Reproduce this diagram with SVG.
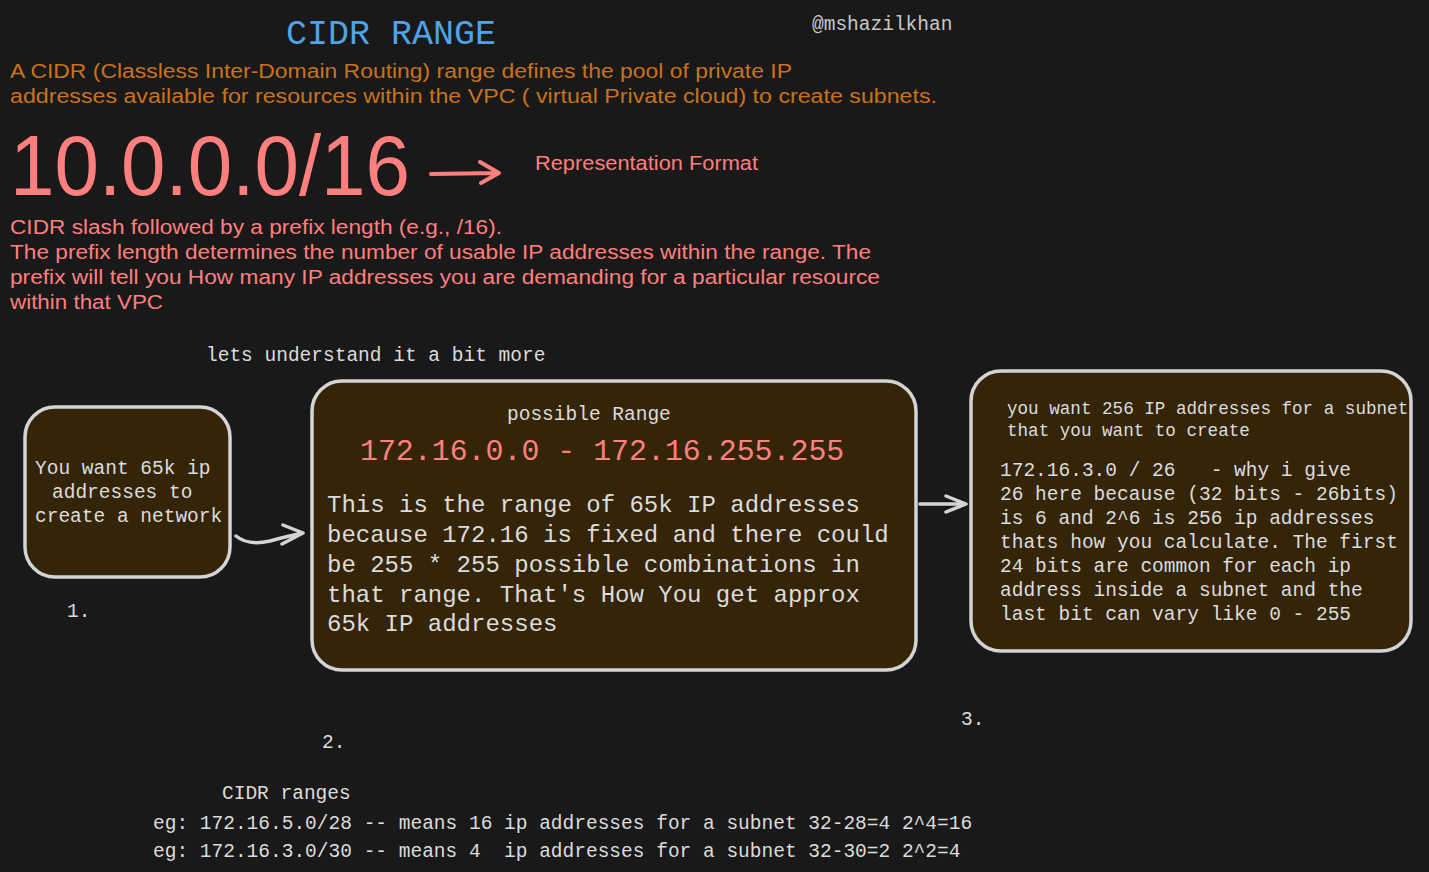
<svg xmlns="http://www.w3.org/2000/svg" width="1429" height="872" viewBox="0 0 1429 872">
<style>
.mono{font-family:"Liberation Mono","DejaVu Sans Mono",monospace;fill:#dcdcdc}
.hand{font-family:"Liberation Sans","Noto Sans",sans-serif}
.org{fill:#c8731c}
.pink{fill:#ff7f7f}
.box{fill:#352508;stroke:#d4d4d4;stroke-width:3.5}
.conn{fill:none;stroke:#d4d4d4;stroke-width:3.5;stroke-linecap:round;stroke-linejoin:round}
</style>
<rect width="1429" height="872" fill="#191919"/>
<g id="header">
<text class="mono" x="286" y="44" font-size="35" style="fill:#4fa3e8">CIDR RANGE</text>
<text class="mono" x="812" y="30" font-size="19.5" style="fill:#c8c8c8">@mshazilkhan</text>
<text class="hand org" x="10" y="78" font-size="20" textLength="782" lengthAdjust="spacingAndGlyphs">A CIDR (Classless Inter-Domain Routing) range defines the pool of private IP</text>
<text class="hand org" x="10" y="103" font-size="20" textLength="927" lengthAdjust="spacingAndGlyphs">addresses available for resources within the VPC ( virtual Private cloud) to create subnets.</text>
</g>
<g id="format">
<text class="hand pink" x="10" y="195" font-size="86" textLength="400" lengthAdjust="spacingAndGlyphs">10.0.0.0/16</text>
<path d="M431 174 L498 173 M480 162 L499 173 L481 183" fill="none" stroke="#ff7f7f" stroke-width="4" stroke-linecap="round" stroke-linejoin="round"/>
<text class="hand pink" x="535" y="170" font-size="20" textLength="223" lengthAdjust="spacingAndGlyphs">Representation Format</text>
<text class="hand pink" x="10" y="234" font-size="20" textLength="492" lengthAdjust="spacingAndGlyphs">CIDR slash followed by a prefix length (e.g., /16).</text>
<text class="hand pink" x="10" y="259" font-size="20" textLength="861" lengthAdjust="spacingAndGlyphs">The prefix length determines the number of usable IP addresses within the range. The</text>
<text class="hand pink" x="10" y="284" font-size="20" textLength="870" lengthAdjust="spacingAndGlyphs">prefix will tell you How many IP addresses you are demanding for a particular resource</text>
<text class="hand pink" x="10" y="309" font-size="20" textLength="153" lengthAdjust="spacingAndGlyphs">within that VPC</text>
<text class="mono" x="206" y="361" font-size="19.5">lets understand it a bit more</text>
</g>
<g id="node1">
<rect class="box" x="25" y="407" width="205" height="170" rx="30"/>
<text class="mono" font-size="19.5"><tspan x="35" y="474">You want 65k ip</tspan><tspan x="52" y="498">addresses to</tspan><tspan x="35" y="522">create a network</tspan></text>
<text class="mono" x="67" y="617" font-size="19.5">1.</text>
</g>
<g id="node2">
<rect class="box" x="312" y="381" width="604" height="289" rx="30"/>
<text class="mono" x="507" y="420" font-size="19.5">possible Range</text>
<text class="mono" x="360" y="460" font-size="29.9" style="fill:#ff8080">172.16.0.0 - 172.16.255.255</text>
<text class="mono" font-size="24"><tspan x="327" y="512">This is the range of 65k IP addresses</tspan><tspan x="327" y="542">because 172.16 is fixed and there could</tspan><tspan x="327" y="572">be 255 * 255 possible combinations in</tspan><tspan x="327" y="602">that range. That's How You get approx</tspan><tspan x="327" y="631">65k IP addresses</tspan></text>
<text class="mono" x="322" y="748" font-size="19.5">2.</text>
</g>
<g id="node3">
<rect class="box" x="971" y="371" width="440" height="280" rx="30"/>
<text class="mono" font-size="17.6"><tspan x="1007" y="414">you want 256 IP addresses for a subnet</tspan><tspan x="1007" y="436">that you want to create</tspan></text>
<text class="mono" font-size="19.5" xml:space="preserve"><tspan x="1000" y="476">172.16.3.0 / 26   - why i give</tspan><tspan x="1000" y="500">26 here because (32 bits - 26bits)</tspan><tspan x="1000" y="524">is 6 and 2^6 is 256 ip addresses</tspan><tspan x="1000" y="548">thats how you calculate. The first</tspan><tspan x="1000" y="572">24 bits are common for each ip</tspan><tspan x="1000" y="596">address inside a subnet and the</tspan><tspan x="1000" y="620">last bit can vary like 0 - 255</tspan></text>
<text class="mono" x="961" y="725" font-size="19.5">3.</text>
</g>
<g id="notes">
<text class="mono" font-size="19.5" xml:space="preserve"><tspan x="222" y="799">CIDR ranges</tspan><tspan x="153" y="829">eg: 172.16.5.0/28 -- means 16 ip addresses for a subnet 32-28=4 2^4=16</tspan><tspan x="153" y="857">eg: 172.16.3.0/30 -- means 4  ip addresses for a subnet 32-30=2 2^2=4</tspan></text>
</g>
<g id="connectors">
<path class="conn" d="M236 536 Q248 546 270 541 Q288 536 303 533 M283 525 L303 533 L282 544"/>
<path class="conn" d="M920 504 L966 504 M946 496 L966 504 L946 512"/>
</g>
</svg>
